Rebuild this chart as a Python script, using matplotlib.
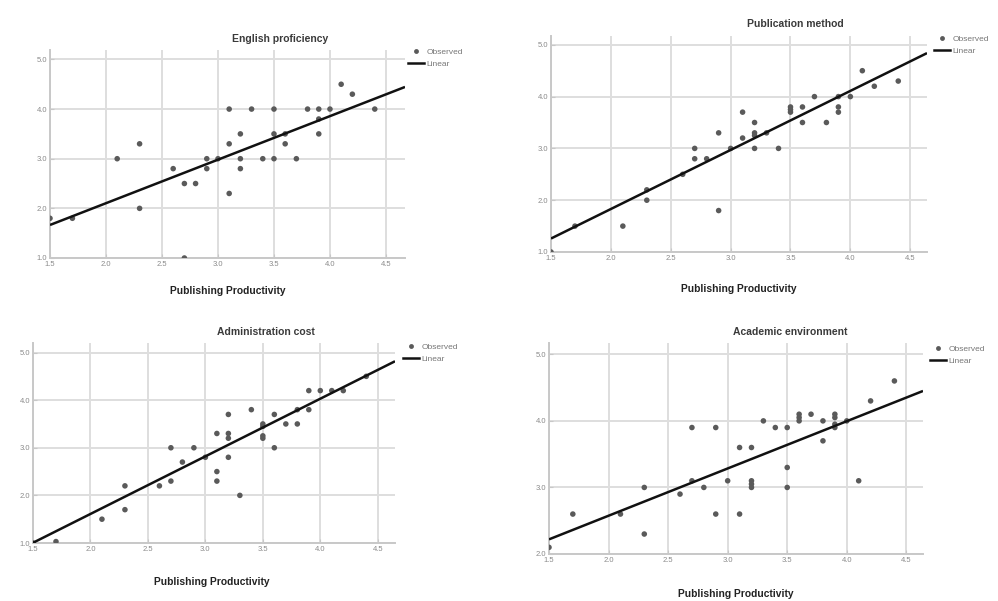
import matplotlib as mpl
mpl.use("Agg")
import matplotlib.pyplot as plt
from matplotlib.lines import Line2D

W, H = 998, 601

mpl.rcParams.update({
    "font.family": ["Liberation Sans", "DejaVu Sans"],
    "font.size": 6,
})

# --- observed points ---
eng_x = [1.5, 1.7, 2.1, 2.3, 2.3, 2.6, 2.7, 2.7, 2.8, 2.9, 2.9, 3.0, 3.1, 3.1, 3.1,
         3.2, 3.2, 3.2, 3.3, 3.4, 3.5, 3.5, 3.5, 3.6, 3.6, 3.7, 3.8, 3.9, 3.9, 3.9,
         4.0, 4.1, 4.2, 4.4]
eng_y = [1.8, 1.8, 3.0, 3.3, 2.0, 2.8, 2.5, 1.0, 2.5, 3.0, 2.8, 3.0, 4.0, 3.3, 2.3,
         3.5, 3.0, 2.8, 4.0, 3.0, 4.0, 3.5, 3.0, 3.5, 3.3, 3.0, 4.0, 4.0, 3.8, 3.5,
         4.0, 4.5, 4.3, 4.0]

pub_x = [1.5, 1.7, 2.1, 2.3, 2.3, 2.6, 2.7, 2.7, 2.8, 2.9, 2.9, 3.0, 3.1, 3.1, 3.2,
         3.2, 3.2, 3.2, 3.3, 3.4, 3.5, 3.5, 3.5, 3.6, 3.6, 3.7, 3.8, 3.9, 3.9, 3.9,
         4.0, 4.1, 4.2, 4.4]
pub_y = [1.0, 1.5, 1.5, 2.2, 2.0, 2.5, 3.0, 2.8, 2.8, 3.3, 1.8, 3.0, 3.7, 3.2, 3.5,
         3.3, 3.25, 3.0, 3.3, 3.0, 3.8, 3.75, 3.7, 3.8, 3.5, 4.0, 3.5, 4.0, 3.8, 3.7,
         4.0, 4.5, 4.2, 4.3]

adm_x = [1.5, 1.7, 2.1, 2.3, 2.3, 2.6, 2.7, 2.7, 2.8, 2.9, 3.0, 3.1, 3.1, 3.1, 3.2,
         3.2, 3.2, 3.2, 3.3, 3.4, 3.5, 3.5, 3.5, 3.5, 3.6, 3.6, 3.7, 3.8, 3.8, 3.9,
         3.9, 4.0, 4.1, 4.2, 4.4]
adm_y = [1.0, 1.03, 1.5, 2.2, 1.7, 2.2, 3.0, 2.3, 2.7, 3.0, 2.8, 3.3, 2.5, 2.3, 3.7,
         3.3, 3.2, 2.8, 2.0, 3.8, 3.5, 3.45, 3.25, 3.2, 3.7, 3.0, 3.5, 3.5, 3.8, 4.2,
         3.8, 4.2, 4.2, 4.2, 4.5]

aca_x = [1.5, 1.7, 2.1, 2.3, 2.3, 2.6, 2.7, 2.7, 2.8, 2.9, 2.9, 3.0, 3.1, 3.1, 3.2,
         3.2, 3.2, 3.2, 3.3, 3.4, 3.5, 3.5, 3.5, 3.6, 3.6, 3.6, 3.7, 3.8, 3.8, 3.9,
         3.9, 3.9, 3.9, 4.0, 4.1, 4.2, 4.4]
aca_y = [2.1, 2.6, 2.6, 3.0, 2.3, 2.9, 3.9, 3.1, 3.0, 3.9, 2.6, 3.1, 3.6, 2.6, 3.6,
         3.1, 3.05, 3.0, 4.0, 3.9, 3.9, 3.3, 3.0, 4.1, 4.05, 4.0, 4.1, 4.0, 3.7, 4.1,
         4.05, 3.95, 3.9, 4.0, 3.1, 4.3, 4.6]

# fitted "Linear" lines as drawn in the panels (intercept, slope)
eng_fit = (0.35, 0.877)
pub_fit = (-0.45, 1.14)
adm_fit = (-0.81, 1.21)
aca_fit = (1.155, 0.71)

panels = [
    # title, x, y, fit, axes box px (left, right, top, bottom), xmax, ylim,
    # title xy, xlabel xy, legend xy
    ("English proficiency", eng_x, eng_y, eng_fit, (50, 405, 50, 258), 4.67, (1.0, 5.19),
     (280, 39), (228, 291), (408, 48)),
    ("Publication method", pub_x, pub_y, pub_fit, (551, 927, 36, 252), 4.64, (1.0, 5.17),
     (795, 24), (739, 289), (934, 35)),
    ("Administration cost", adm_x, adm_y, adm_fit, (33, 395, 343, 543), 4.65, (1.0, 5.2),
     (266, 332), (212, 582), (403, 343)),
    ("Academic environment", aca_x, aca_y, aca_fit, (549, 923, 343, 554), 4.64, (2.0, 5.17),
     (790, 332), (736, 594), (930, 345)),
]

GRID = "#dedede"
DOT = "#5a5a5a"
TICK = "#8a8a8a"

fig = plt.figure(figsize=(W / 100, H / 100), dpi=100)

for title, xs, ys, fit, box, xmax, ylim, txy, lxy, gxy in panels:
    l, r, t, b = box
    ax = fig.add_axes([l / W, (H - b) / H, (r - l) / W, (b - t) / H])
    ax.set_xlim(1.5, xmax)
    ax.set_ylim(*ylim)
    ax.set_xticks([1.5, 2.0, 2.5, 3.0, 3.5, 4.0, 4.5])
    ax.set_yticks([v for v in [1.0, 2.0, 3.0, 4.0, 5.0] if v >= ylim[0]])
    ax.xaxis.set_major_formatter(mpl.ticker.FormatStrFormatter("%.1f"))
    ax.yaxis.set_major_formatter(mpl.ticker.FormatStrFormatter("%.1f"))
    ax.grid(True, color=GRID, lw=1.4)
    ax.set_axisbelow(True)
    for s in ("top", "right"):
        ax.spines[s].set_visible(False)
    for s in ("left", "bottom"):
        ax.spines[s].set_color("#c8c8c8")
        ax.spines[s].set_linewidth(1.4)
    ax.tick_params(direction="in", length=3, width=0.8, color="#c8c8c8",
                   labelsize=5.5, labelcolor=TICK, pad=2)

    ax.scatter(xs, ys, s=16, color=DOT, edgecolors="none", zorder=3)
    x0, x1 = ax.get_xlim()
    a, k = fit
    ax.plot([x0, x1], [a + k * x0, a + k * x1], color="#111111", lw=1.8,
            zorder=4, solid_capstyle="butt")

    fig.text(txy[0] / W, 1 - txy[1] / H, title, ha="center", va="center",
             fontsize=7.5, fontweight="bold", color="#3a3a3a")
    fig.text(lxy[0] / W, 1 - lxy[1] / H, "Publishing Productivity", ha="center",
             va="center", fontsize=7.4, fontweight="bold", color="#222222")

    handles = [Line2D([], [], ls="none", marker="o", ms=3.5, color=DOT, mec="none"),
               Line2D([], [], color="#111111", lw=1.8)]
    fig.legend(handles, ["Observed", "Linear"], loc="upper left",
               bbox_to_anchor=(gxy[0] / W, 1 - gxy[1] / H), frameon=False,
               fontsize=6, labelcolor="#777777", handlelength=1.9,
               handletextpad=0.3, labelspacing=0.5, borderpad=0, borderaxespad=0)

fig.savefig("out.png", dpi=100)
